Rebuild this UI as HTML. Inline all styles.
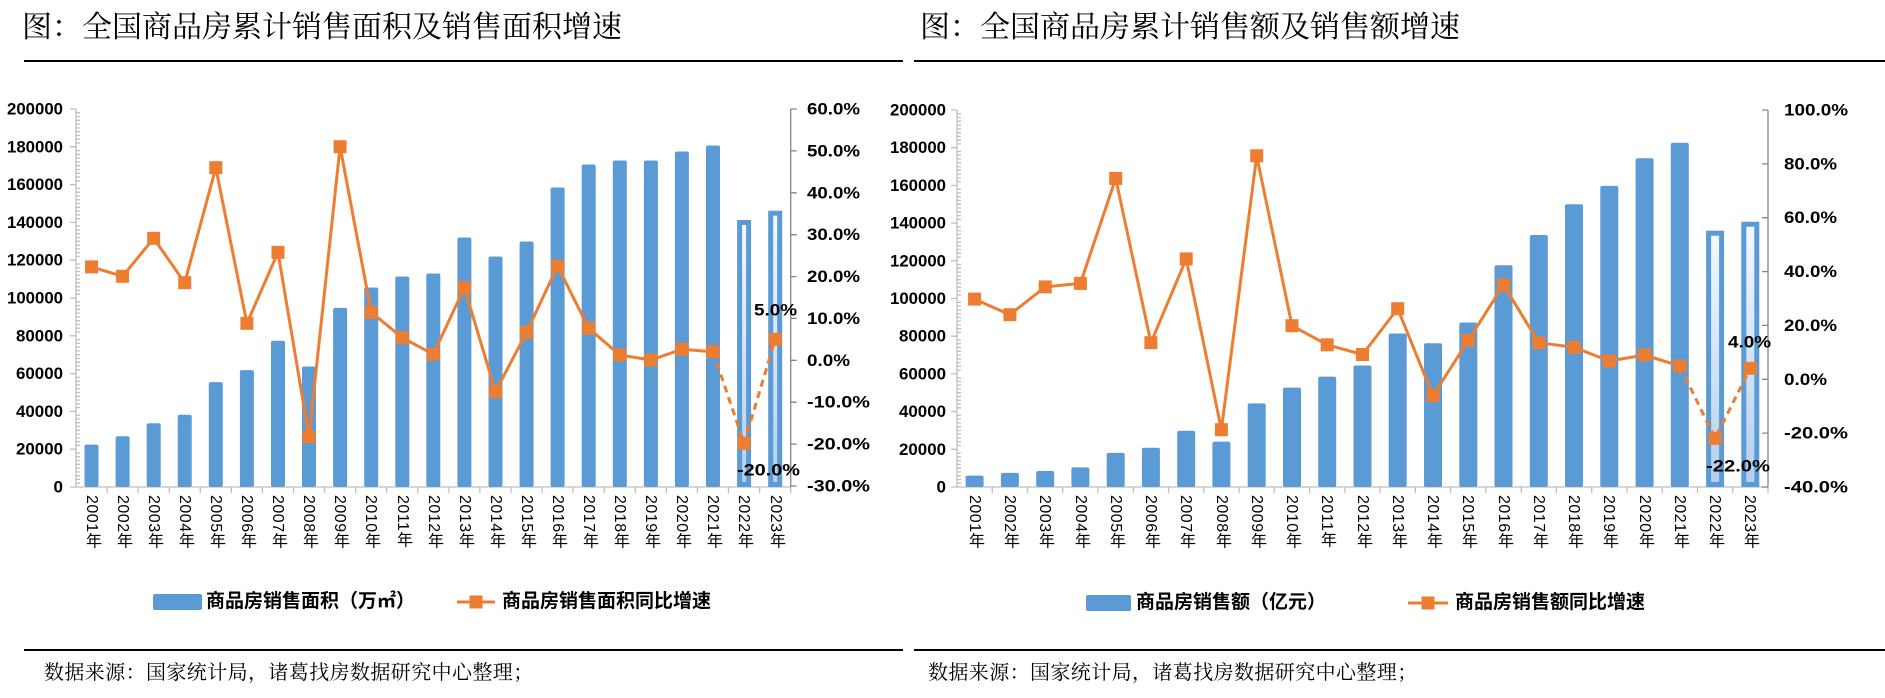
<!DOCTYPE html>
<html><head><meta charset="utf-8">
<style>
html,body{margin:0;padding:0;background:#fff;}
body{width:1885px;height:698px;position:relative;overflow:hidden;font-family:"Liberation Sans","Noto Sans CJK SC",sans-serif;}
.t{position:absolute;font-family:"Liberation Serif","Noto Serif CJK SC",serif;font-size:30px;line-height:30px;color:#000;white-space:nowrap;}
.xl{position:absolute;top:495px;writing-mode:vertical-rl;text-orientation:mixed;font-family:"Liberation Sans","Noto Sans CJK SC",sans-serif;font-size:16px;line-height:16px;color:#000;letter-spacing:0.5px;}
.lg{position:absolute;font-family:"Liberation Sans","Noto Sans CJK SC",sans-serif;font-weight:bold;font-size:19px;line-height:20px;white-space:nowrap;color:#000;}
.src{position:absolute;font-family:"Liberation Serif","Noto Serif CJK SC",serif;font-size:20px;line-height:20px;letter-spacing:0.4px;white-space:nowrap;color:#000;}
</style></head><body>
<div class="t" style="left:22px;top:13px;">图：全国商品房累计销售面积及销售面积增速</div>
<div class="t" style="left:920px;top:13px;">图：全国商品房累计销售额及销售额增速</div>

<svg width="1885" height="698" style="position:absolute;left:0;top:0" xmlns="http://www.w3.org/2000/svg">
<defs>
<linearGradient id="g" x1="0" y1="0" x2="0" y2="1"><stop offset="0" stop-color="#f4f8fd"/><stop offset="1" stop-color="#b3cfec"/></linearGradient>
</defs>
<line x1="24" y1="61" x2="903" y2="61" stroke="#000" stroke-width="2"/>
<line x1="914" y1="61" x2="1885" y2="61" stroke="#000" stroke-width="2"/>
<line x1="24" y1="650" x2="903" y2="650" stroke="#000" stroke-width="2"/>
<line x1="914" y1="650" x2="1885" y2="650" stroke="#000" stroke-width="2"/>

<!-- LEFT CHART axes -->
<g stroke="#bfbfbf" stroke-width="1.3">
<line x1="76" y1="109" x2="76" y2="487"/>
<line x1="76" y1="487" x2="791" y2="487"/>
<path d="M70 109H76M70 146.8H76M70 184.6H76M70 222.4H76M70 260.2H76M70 298H76M70 335.8H76M70 373.6H76M70 411.4H76M70 449.2H76M70 487H76"/>
<path d="M76 112.8h4M76 116.6h4M76 120.3h4M76 124.1h4M76 127.9h4M76 131.7h4M76 135.5h4M76 139.2h4M76 143h4M76 150.6h4M76 154.4h4M76 158.1h4M76 161.9h4M76 165.7h4M76 169.5h4M76 173.3h4M76 177h4M76 180.8h4M76 188.4h4M76 192.2h4M76 195.9h4M76 199.7h4M76 203.5h4M76 207.3h4M76 211.1h4M76 214.8h4M76 218.6h4M76 226.2h4M76 230h4M76 233.7h4M76 237.5h4M76 241.3h4M76 245.1h4M76 248.9h4M76 252.6h4M76 256.4h4M76 264h4M76 267.8h4M76 271.5h4M76 275.3h4M76 279.1h4M76 282.9h4M76 286.7h4M76 290.4h4M76 294.2h4M76 301.8h4M76 305.6h4M76 309.3h4M76 313.1h4M76 316.9h4M76 320.7h4M76 324.5h4M76 328.2h4M76 332h4M76 339.6h4M76 343.4h4M76 347.1h4M76 350.9h4M76 354.7h4M76 358.5h4M76 362.3h4M76 366h4M76 369.8h4M76 377.4h4M76 381.2h4M76 384.9h4M76 388.7h4M76 392.5h4M76 396.3h4M76 400.1h4M76 403.8h4M76 407.6h4M76 415.2h4M76 419h4M76 422.7h4M76 426.5h4M76 430.3h4M76 434.1h4M76 437.9h4M76 441.6h4M76 445.4h4M76 453h4M76 456.8h4M76 460.5h4M76 464.3h4M76 468.1h4M76 471.9h4M76 475.7h4M76 479.4h4M76 483.2h4"/>
<path d="M107.1 487v6M138.1 487v6M169.2 487v6M200.3 487v6M231.4 487v6M262.4 487v6M293.5 487v6M324.6 487v6M355.6 487v6M386.7 487v6M417.8 487v6M448.9 487v6M479.9 487v6M511 487v6M542.1 487v6M573.1 487v6M604.2 487v6M635.3 487v6M666.4 487v6M697.4 487v6M728.5 487v6M759.6 487v6M790.7 487v6"/>
</g>
<g stroke="#868686" stroke-width="1.3">
<line x1="790.7" y1="109" x2="790.7" y2="487"/>
<path d="M790.7 109h6M790.7 150.9h6M790.7 192.8h6M790.7 234.7h6M790.7 276.6h6M790.7 318.4h6M790.7 360.3h6M790.7 402.2h6M790.7 444.1h6M790.7 486h6"/>
</g>
<g font-family="Liberation Sans, sans-serif" font-weight="bold" font-size="17" fill="#000" text-anchor="end" dominant-baseline="central">
<text x="63" y="109" textLength="56" lengthAdjust="spacingAndGlyphs">200000</text>
<text x="63" y="146.8" textLength="56" lengthAdjust="spacingAndGlyphs">180000</text>
<text x="63" y="184.6" textLength="56" lengthAdjust="spacingAndGlyphs">160000</text>
<text x="63" y="222.4" textLength="56" lengthAdjust="spacingAndGlyphs">140000</text>
<text x="63" y="260.2" textLength="56" lengthAdjust="spacingAndGlyphs">120000</text>
<text x="63" y="298" textLength="56" lengthAdjust="spacingAndGlyphs">100000</text>
<text x="63" y="335.8" textLength="47" lengthAdjust="spacingAndGlyphs">80000</text>
<text x="63" y="373.6" textLength="47" lengthAdjust="spacingAndGlyphs">60000</text>
<text x="63" y="411.4" textLength="47" lengthAdjust="spacingAndGlyphs">40000</text>
<text x="63" y="449.2" textLength="47" lengthAdjust="spacingAndGlyphs">20000</text>
<text x="63" y="487">0</text>
</g>
<g font-family="Liberation Sans, sans-serif" font-weight="bold" font-size="17" fill="#000" dominant-baseline="central">
<text x="807" y="109" textLength="53" lengthAdjust="spacingAndGlyphs">60.0%</text>
<text x="807" y="150.9" textLength="53" lengthAdjust="spacingAndGlyphs">50.0%</text>
<text x="807" y="192.8" textLength="53" lengthAdjust="spacingAndGlyphs">40.0%</text>
<text x="807" y="234.7" textLength="53" lengthAdjust="spacingAndGlyphs">30.0%</text>
<text x="807" y="276.6" textLength="53" lengthAdjust="spacingAndGlyphs">20.0%</text>
<text x="807" y="318.4" textLength="53" lengthAdjust="spacingAndGlyphs">10.0%</text>
<text x="807" y="360.3" textLength="43" lengthAdjust="spacingAndGlyphs">0.0%</text>
<text x="807" y="402.2" textLength="63" lengthAdjust="spacingAndGlyphs">-10.0%</text>
<text x="807" y="444.1" textLength="63" lengthAdjust="spacingAndGlyphs">-20.0%</text>
<text x="807" y="486" textLength="63" lengthAdjust="spacingAndGlyphs">-30.0%</text>
</g>
<!-- left bars -->
<g fill="#5b9bd5">
<rect x="84.5" y="444.6" width="14" height="42.4" rx="2"/>
<rect x="115.6" y="436.3" width="14" height="50.7" rx="2"/>
<rect x="146.7" y="423.3" width="14" height="63.7" rx="2"/>
<rect x="177.7" y="414.7" width="14" height="72.3" rx="2"/>
<rect x="208.8" y="382.1" width="14" height="104.9" rx="2"/>
<rect x="239.9" y="370.1" width="14" height="116.9" rx="2"/>
<rect x="271" y="340.8" width="14" height="146.2" rx="2"/>
<rect x="302" y="366.5" width="14" height="120.5" rx="2"/>
<rect x="333.1" y="307.9" width="14" height="179.1" rx="2"/>
<rect x="364.2" y="287.5" width="14" height="199.5" rx="2"/>
<rect x="395.3" y="276.5" width="14" height="210.5" rx="2"/>
<rect x="426.3" y="273.5" width="14" height="213.5" rx="2"/>
<rect x="457.4" y="237.5" width="14" height="249.5" rx="2"/>
<rect x="488.5" y="256.5" width="14" height="230.5" rx="2"/>
<rect x="519.6" y="241.5" width="14" height="245.5" rx="2"/>
<rect x="550.6" y="187.5" width="14" height="299.5" rx="2"/>
<rect x="581.7" y="164.5" width="14" height="322.5" rx="2"/>
<rect x="612.8" y="160.5" width="14" height="326.5" rx="2"/>
<rect x="643.9" y="160.5" width="14" height="326.5" rx="2"/>
<rect x="674.9" y="151.5" width="14" height="335.5" rx="2"/>
<rect x="706" y="145.5" width="14" height="341.5" rx="2"/>
</g>
<rect x="739.6" y="222.5" width="9" height="262" fill="url(#g)" stroke="#5b9bd5" stroke-width="5"/>
<rect x="770.7" y="213.2" width="9" height="271.3" fill="url(#g)" stroke="#5b9bd5" stroke-width="5"/>
<!-- left line -->
<polyline fill="none" stroke="#ed7d31" stroke-width="3" stroke-linejoin="round" points="91.5,266.9 122.6,276.3 153.7,238.3 184.7,282.7 215.8,167.7 246.9,323.3 278,252.3 309,436.7 340.1,146.7 371.2,312.3 402.3,337.7 433.3,354.3 464.4,287.7 495.5,391.7 526.6,332.3 557.6,266 588.7,328.3 619.8,355 650.9,360 681.9,349.3 713,351.7"/>
<polyline fill="none" stroke="#ed7d31" stroke-width="3" stroke-dasharray="7,5" points="713,351.7 744.1,443.3 775.2,339.3"/>
<g fill="#ed7d31">
<rect x="85" y="260.4" width="13" height="13"/><rect x="116.1" y="269.8" width="13" height="13"/><rect x="147.2" y="231.8" width="13" height="13"/><rect x="178.2" y="276.2" width="13" height="13"/><rect x="209.3" y="161.2" width="13" height="13"/><rect x="240.4" y="316.8" width="13" height="13"/><rect x="271.5" y="245.8" width="13" height="13"/><rect x="302.5" y="430.2" width="13" height="13"/><rect x="333.6" y="140.2" width="13" height="13"/><rect x="364.7" y="305.8" width="13" height="13"/><rect x="395.8" y="331.2" width="13" height="13"/><rect x="426.8" y="347.8" width="13" height="13"/><rect x="457.9" y="281.2" width="13" height="13"/><rect x="489" y="385.2" width="13" height="13"/><rect x="520.1" y="325.8" width="13" height="13"/><rect x="551.1" y="259.5" width="13" height="13"/><rect x="582.2" y="321.8" width="13" height="13"/><rect x="613.3" y="348.5" width="13" height="13"/><rect x="644.4" y="353.5" width="13" height="13"/><rect x="675.4" y="342.8" width="13" height="13"/><rect x="706.5" y="345.2" width="13" height="13"/><rect x="737.6" y="436.8" width="13" height="13"/><rect x="768.7" y="332.8" width="13" height="13"/>
</g>
<g font-family="Liberation Sans, sans-serif" font-weight="bold" font-size="17" fill="#000" dominant-baseline="central">
<text x="754" y="310" textLength="43" lengthAdjust="spacingAndGlyphs">5.0%</text>
<text x="737" y="470" textLength="63" lengthAdjust="spacingAndGlyphs">-20.0%</text>
</g>

<!-- RIGHT CHART axes -->
<g stroke="#bfbfbf" stroke-width="1.3">
<line x1="957" y1="110" x2="957" y2="487"/>
<line x1="957" y1="487" x2="1768" y2="487"/>
<path d="M951 110H957M951 147.7H957M951 185.4H957M951 223.1H957M951 260.8H957M951 298.5H957M951 336.2H957M951 373.9H957M951 411.6H957M951 449.3H957M951 487H957"/>
<path d="M957 113.8h4M957 117.5h4M957 121.3h4M957 125.1h4M957 128.9h4M957 132.6h4M957 136.4h4M957 140.2h4M957 143.9h4M957 151.5h4M957 155.2h4M957 159h4M957 162.8h4M957 166.6h4M957 170.3h4M957 174.1h4M957 177.9h4M957 181.6h4M957 189.2h4M957 192.9h4M957 196.7h4M957 200.5h4M957 204.3h4M957 208h4M957 211.8h4M957 215.6h4M957 219.3h4M957 226.9h4M957 230.6h4M957 234.4h4M957 238.2h4M957 242h4M957 245.7h4M957 249.5h4M957 253.3h4M957 257h4M957 264.6h4M957 268.3h4M957 272.1h4M957 275.9h4M957 279.7h4M957 283.4h4M957 287.2h4M957 291h4M957 294.7h4M957 302.3h4M957 306h4M957 309.8h4M957 313.6h4M957 317.4h4M957 321.1h4M957 324.9h4M957 328.7h4M957 332.4h4M957 340h4M957 343.7h4M957 347.5h4M957 351.3h4M957 355.1h4M957 358.8h4M957 362.6h4M957 366.4h4M957 370.1h4M957 377.7h4M957 381.4h4M957 385.2h4M957 389h4M957 392.8h4M957 396.5h4M957 400.3h4M957 404.1h4M957 407.8h4M957 415.4h4M957 419.1h4M957 422.9h4M957 426.7h4M957 430.5h4M957 434.2h4M957 438h4M957 441.8h4M957 445.5h4M957 453.1h4M957 456.8h4M957 460.6h4M957 464.4h4M957 468.2h4M957 471.9h4M957 475.7h4M957 479.5h4M957 483.2h4"/>
<path d="M992.3 487v6M1027.5 487v6M1062.8 487v6M1098 487v6M1133.3 487v6M1168.6 487v6M1203.8 487v6M1239.1 487v6M1274.3 487v6M1309.6 487v6M1344.9 487v6M1380.1 487v6M1415.4 487v6M1450.6 487v6M1485.9 487v6M1521.2 487v6M1556.4 487v6M1591.7 487v6M1626.9 487v6M1662.2 487v6M1697.5 487v6M1732.7 487v6M1768 487v6"/>
</g>
<g stroke="#868686" stroke-width="1.3">
<line x1="1768" y1="110" x2="1768" y2="487"/>
<path d="M1768 110h-6M1768 163.9h-6M1768 217.7h-6M1768 271.6h-6M1768 325.4h-6M1768 379.3h-6M1768 433.1h-6M1768 487h-6"/>
</g>
<g font-family="Liberation Sans, sans-serif" font-weight="bold" font-size="17" fill="#000" text-anchor="end" dominant-baseline="central">
<text x="946" y="110" textLength="56" lengthAdjust="spacingAndGlyphs">200000</text>
<text x="946" y="147.7" textLength="56" lengthAdjust="spacingAndGlyphs">180000</text>
<text x="946" y="185.4" textLength="56" lengthAdjust="spacingAndGlyphs">160000</text>
<text x="946" y="223.1" textLength="56" lengthAdjust="spacingAndGlyphs">140000</text>
<text x="946" y="260.8" textLength="56" lengthAdjust="spacingAndGlyphs">120000</text>
<text x="946" y="298.5" textLength="56" lengthAdjust="spacingAndGlyphs">100000</text>
<text x="946" y="336.2" textLength="47" lengthAdjust="spacingAndGlyphs">80000</text>
<text x="946" y="373.9" textLength="47" lengthAdjust="spacingAndGlyphs">60000</text>
<text x="946" y="411.6" textLength="47" lengthAdjust="spacingAndGlyphs">40000</text>
<text x="946" y="449.3" textLength="47" lengthAdjust="spacingAndGlyphs">20000</text>
<text x="946" y="487">0</text>
</g>
<g font-family="Liberation Sans, sans-serif" font-weight="bold" font-size="17" fill="#000" dominant-baseline="central">
<text x="1784" y="110" textLength="64" lengthAdjust="spacingAndGlyphs">100.0%</text>
<text x="1784" y="163.9" textLength="53" lengthAdjust="spacingAndGlyphs">80.0%</text>
<text x="1784" y="217.7" textLength="53" lengthAdjust="spacingAndGlyphs">60.0%</text>
<text x="1784" y="271.6" textLength="53" lengthAdjust="spacingAndGlyphs">40.0%</text>
<text x="1784" y="325.4" textLength="53" lengthAdjust="spacingAndGlyphs">20.0%</text>
<text x="1784" y="379.3" textLength="43" lengthAdjust="spacingAndGlyphs">0.0%</text>
<text x="1784" y="433.1" textLength="64" lengthAdjust="spacingAndGlyphs">-20.0%</text>
<text x="1784" y="487" textLength="64" lengthAdjust="spacingAndGlyphs">-40.0%</text>
</g>
<!-- right bars -->
<g fill="#5b9bd5">
<rect x="965.6" y="475.6" width="18" height="11.4" rx="2"/>
<rect x="1000.9" y="472.9" width="18" height="14.1" rx="2"/>
<rect x="1036.2" y="471" width="18" height="16" rx="2"/>
<rect x="1071.4" y="467.4" width="18" height="19.6" rx="2"/>
<rect x="1106.7" y="452.9" width="18" height="34.1" rx="2"/>
<rect x="1141.9" y="447.7" width="18" height="39.3" rx="2"/>
<rect x="1177.2" y="430.7" width="18" height="56.3" rx="2"/>
<rect x="1212.4" y="441.6" width="18" height="45.4" rx="2"/>
<rect x="1247.7" y="403.4" width="18" height="83.6" rx="2"/>
<rect x="1283" y="387.6" width="18" height="99.4" rx="2"/>
<rect x="1318.2" y="376.6" width="18" height="110.4" rx="2"/>
<rect x="1353.5" y="365.5" width="18" height="121.5" rx="2"/>
<rect x="1388.7" y="333.5" width="18" height="153.5" rx="2"/>
<rect x="1424" y="343.2" width="18" height="143.8" rx="2"/>
<rect x="1459.3" y="322.5" width="18" height="164.5" rx="2"/>
<rect x="1494.5" y="265.3" width="18" height="221.7" rx="2"/>
<rect x="1529.8" y="235" width="18" height="252" rx="2"/>
<rect x="1565" y="204.3" width="18" height="282.7" rx="2"/>
<rect x="1600.3" y="185.9" width="18" height="301.1" rx="2"/>
<rect x="1635.6" y="158.3" width="18" height="328.7" rx="2"/>
<rect x="1670.8" y="142.7" width="18" height="344.3" rx="2"/>
</g>
<rect x="1708.6" y="233.2" width="13" height="251.3" fill="url(#g)" stroke="#5b9bd5" stroke-width="5"/>
<rect x="1743.8" y="224.2" width="13" height="260.3" fill="url(#g)" stroke="#5b9bd5" stroke-width="5"/>
<polyline fill="none" stroke="#ed7d31" stroke-width="3" stroke-linejoin="round" points="974.6,299.1 1009.9,314.7 1045.2,286.9 1080.4,283.4 1115.7,178.4 1150.9,342.7 1186.2,258.9 1221.4,429.7 1256.7,155.8 1292,325.7 1327.2,344.8 1362.5,354.5 1397.7,308.7 1433,395.7 1468.3,340.3 1503.5,284.8 1538.8,342.7 1574,347.3 1609.3,361 1644.6,355 1679.8,366"/>
<polyline fill="none" stroke="#ed7d31" stroke-width="3" stroke-dasharray="7,5" points="1679.8,366 1715.1,438.3 1750.3,368.3"/>
<g fill="#ed7d31">
<rect x="968.1" y="292.6" width="13" height="13"/><rect x="1003.4" y="308.2" width="13" height="13"/><rect x="1038.7" y="280.4" width="13" height="13"/><rect x="1073.9" y="276.9" width="13" height="13"/><rect x="1109.2" y="171.9" width="13" height="13"/><rect x="1144.4" y="336.2" width="13" height="13"/><rect x="1179.7" y="252.4" width="13" height="13"/><rect x="1214.9" y="423.2" width="13" height="13"/><rect x="1250.2" y="149.3" width="13" height="13"/><rect x="1285.5" y="319.2" width="13" height="13"/><rect x="1320.7" y="338.3" width="13" height="13"/><rect x="1356" y="348" width="13" height="13"/><rect x="1391.2" y="302.2" width="13" height="13"/><rect x="1426.5" y="389.2" width="13" height="13"/><rect x="1461.8" y="333.8" width="13" height="13"/><rect x="1497" y="278.3" width="13" height="13"/><rect x="1532.3" y="336.2" width="13" height="13"/><rect x="1567.5" y="340.8" width="13" height="13"/><rect x="1602.8" y="354.5" width="13" height="13"/><rect x="1638.1" y="348.5" width="13" height="13"/><rect x="1673.3" y="359.5" width="13" height="13"/><rect x="1708.6" y="431.8" width="13" height="13"/><rect x="1743.8" y="361.8" width="13" height="13"/>
</g>
<g font-family="Liberation Sans, sans-serif" font-weight="bold" font-size="17" fill="#000" dominant-baseline="central">
<text x="1728" y="342" textLength="43" lengthAdjust="spacingAndGlyphs">4.0%</text>
<text x="1706" y="466" textLength="64" lengthAdjust="spacingAndGlyphs">-22.0%</text>
</g>

<!-- legends -->
<rect x="153" y="594" width="49" height="16" fill="#5b9bd5" rx="2"/>
<line x1="457" y1="602" x2="495" y2="602" stroke="#ed7d31" stroke-width="3"/>
<rect x="469.5" y="595.5" width="13" height="13" fill="#ed7d31"/>
<rect x="1086" y="595" width="45" height="16" fill="#5b9bd5" rx="2"/>
<line x1="1408" y1="603" x2="1448" y2="603" stroke="#ed7d31" stroke-width="3"/>
<rect x="1421.5" y="596.5" width="13" height="13" fill="#ed7d31"/>
</svg>

<div class="lg" style="left:206px;top:592px;">商品房销售面积（万㎡）</div>
<div class="lg" style="left:502px;top:592px;">商品房销售面积同比增速</div>
<div class="lg" style="left:1136px;top:593px;">商品房销售额（亿元）</div>
<div class="lg" style="left:1455px;top:593px;">商品房销售额同比增速</div>

<div class="src" style="left:44px;top:663px;">数据来源：国家统计局，诸葛找房数据研究中心整理；</div>
<div class="src" style="left:928px;top:663px;">数据来源：国家统计局，诸葛找房数据研究中心整理；</div>

<div class="xl" style="left:83px;">2001年</div><div class="xl" style="left:114px;">2002年</div><div class="xl" style="left:145px;">2003年</div><div class="xl" style="left:176px;">2004年</div><div class="xl" style="left:207px;">2005年</div><div class="xl" style="left:238px;">2006年</div><div class="xl" style="left:269px;">2007年</div><div class="xl" style="left:300px;">2008年</div><div class="xl" style="left:331px;">2009年</div><div class="xl" style="left:362px;">2010年</div><div class="xl" style="left:394px;">2011年</div><div class="xl" style="left:425px;">2012年</div><div class="xl" style="left:456px;">2013年</div><div class="xl" style="left:487px;">2014年</div><div class="xl" style="left:518px;">2015年</div><div class="xl" style="left:549px;">2016年</div><div class="xl" style="left:580px;">2017年</div><div class="xl" style="left:611px;">2018年</div><div class="xl" style="left:642px;">2019年</div><div class="xl" style="left:673px;">2020年</div><div class="xl" style="left:704px;">2021年</div><div class="xl" style="left:735px;">2022年</div><div class="xl" style="left:767px;">2023年</div>

<div class="xl" style="left:966px;">2001年</div><div class="xl" style="left:1001px;">2002年</div><div class="xl" style="left:1036px;">2003年</div><div class="xl" style="left:1072px;">2004年</div><div class="xl" style="left:1107px;">2005年</div><div class="xl" style="left:1142px;">2006年</div><div class="xl" style="left:1177px;">2007年</div><div class="xl" style="left:1213px;">2008年</div><div class="xl" style="left:1248px;">2009年</div><div class="xl" style="left:1283px;">2010年</div><div class="xl" style="left:1318px;">2011年</div><div class="xl" style="left:1354px;">2012年</div><div class="xl" style="left:1389px;">2013年</div><div class="xl" style="left:1424px;">2014年</div><div class="xl" style="left:1459px;">2015年</div><div class="xl" style="left:1495px;">2016年</div><div class="xl" style="left:1530px;">2017年</div><div class="xl" style="left:1565px;">2018年</div><div class="xl" style="left:1600px;">2019年</div><div class="xl" style="left:1636px;">2020年</div><div class="xl" style="left:1671px;">2021年</div><div class="xl" style="left:1706px;">2022年</div><div class="xl" style="left:1741px;">2023年</div>
</body></html>
